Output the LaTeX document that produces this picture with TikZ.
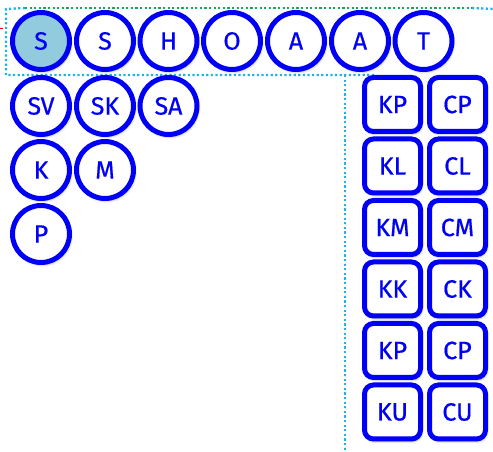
\documentclass[tikz,border=0pt]{standalone}
\usepackage{fontspec}
\setmainfont{Fira Sans}
\newfontfamily\tokfont{Fira Sans}[FakeBold=0.6]
\usetikzlibrary{shadows.blur}
\definecolor{tokblue}{RGB}{0,0,245}
\definecolor{tokfill}{RGB}{146,203,221}
\definecolor{guidecyan}{RGB}{30,180,230}
\definecolor{guidegreen}{RGB}{20,170,90}
\tikzset{
  softshadow/.style={blur shadow={shadow xshift=1.2pt, shadow yshift=-2.2pt, shadow blur radius=2.5pt, shadow opacity=40}},
  token/.style={circle, draw=tokblue, line width=5pt, fill=white, minimum size=57pt, inner sep=0pt,
    text=tokblue, font=\tokfont\fontsize{25}{28}\selectfont, softshadow},
  pick/.style={token, fill=tokfill},
  keybox/.style={rectangle, rounded corners=9pt, draw=tokblue, line width=5pt, fill=white,
    minimum width=56pt, minimum height=54pt, inner sep=0pt,
    text=tokblue, font=\tokfont\fontsize{25}{28}\selectfont, softshadow},
  guide/.style={line width=2.4pt, dash pattern=on 2.2pt off 2.4pt},
}
\begin{document}
\begin{tikzpicture}[x=1pt,y=1pt]
\useasboundingbox (0,0) rectangle (493,452);
% guide lines
\coordinate (g1) at (6,443);
\coordinate (g2) at (6,377);
\coordinate (g3) at (375,377);
\coordinate (g4) at (345,377);
\coordinate (g5) at (345,0);
\coordinate (g6) at (25,444);
\coordinate (g7) at (472,444);
\coordinate (g8) at (493,443);
\coordinate (r1) at (0,423);
\coordinate (r2) at (3,423);
\draw[guide, guidecyan] (g6) -- (g1) -- (g2) -- (g3);
\draw[guide, guidecyan] (g4) -- (g5);
\draw[guide, guidegreen] (g6) -- (g7);
\draw[guide, guidecyan] (g7) -- (g8);
\draw[red, line width=1pt] (r1) -- (r2);
% first row of tokens
\node[pick]  (t1) at (41,411)  {S};
\node[token] (t2) at (105,411) {S};
\node[token] (t3) at (168.5,411) {H};
\node[token] (t4) at (232,411) {O};
\node[token] (t5) at (296,411) {A};
\node[token] (t6) at (360,411) {A};
\node[token] (t7) at (423.5,411) {T};
% left block
\node[token] (sv) at (41,346)  {SV};
\node[token] (sk) at (105,346) {SK};
\node[token] (sa) at (168.5,346) {SA};
\node[token] (k)  at (41,282)  {K};
\node[token] (m)  at (105,282) {M};
\node[token] (p)  at (41,218)  {P};
% right key grid
\node[keybox] (kp1) at (392.5,347.5) {KP};
\node[keybox] (cp1) at (457.5,347.5) {CP};
\node[keybox] (kl)  at (392.5,286)   {KL};
\node[keybox] (cl)  at (457.5,286)   {CL};
\node[keybox] (km)  at (392.5,224.5) {KM};
\node[keybox] (cm)  at (457.5,224.5) {CM};
\node[keybox] (kk)  at (392.5,163)   {KK};
\node[keybox] (ck)  at (457.5,163)   {CK};
\node[keybox] (kp2) at (392.5,101.5) {KP};
\node[keybox] (cp2) at (457.5,101.5) {CP};
\node[keybox] (ku)  at (392.5,40)    {KU};
\node[keybox] (cu)  at (457.5,40)    {CU};
\end{tikzpicture}
\end{document}
